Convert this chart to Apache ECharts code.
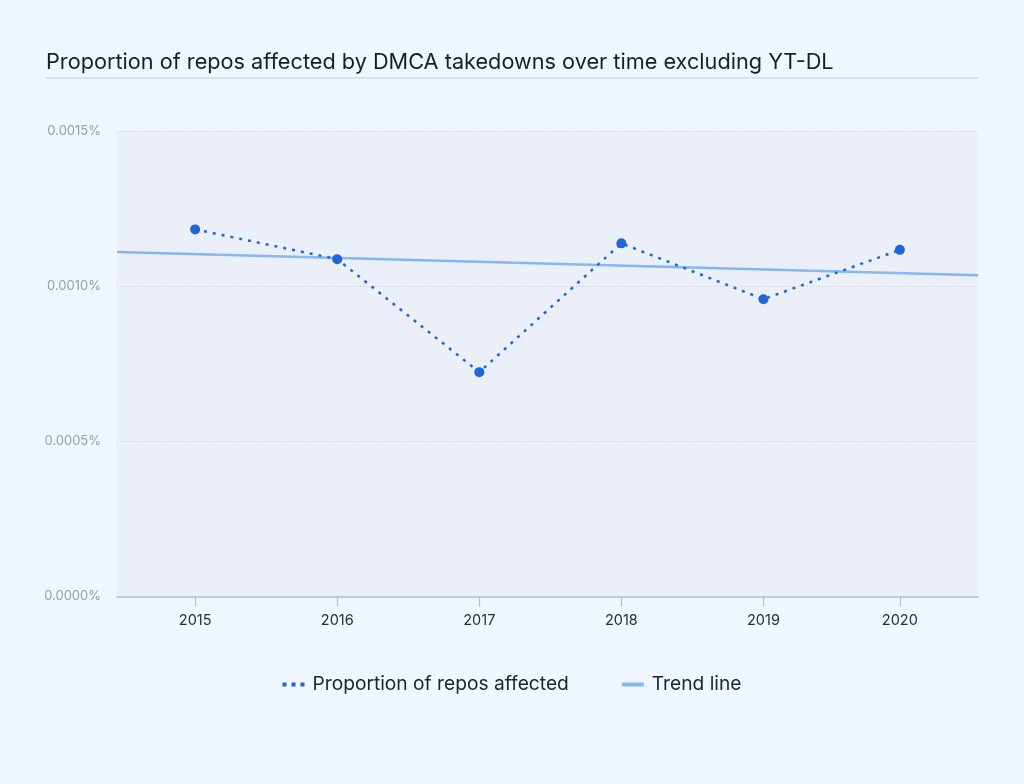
<!DOCTYPE html>
<html>
<head>
<meta charset="utf-8">
<script src="https://cdn.jsdelivr.net/npm/echarts@6/dist/echarts.min.js"></script>
<style>
html,body{margin:0;padding:0;background:#f0f6ff;}
#chart{width:1024px;height:784px;}
</style>
</head>
<body>
<div id="chart"></div>
<script>
// Data (values in percent)
const years = [2015, 2016, 2017, 2018, 2019, 2020];
const yearPositions = [2015, 2016, 2017, 2018, 2019, 2019.96];
const proportion = [0.001183, 0.001087, 0.000723, 0.001138, 0.000958, 0.001117];
const trendX = [2014.45, 2020.51];
const trendY = [0.001110, 0.001035];
const yTicks = [0, 0.0005, 0.001, 0.0015];

const chart = echarts.init(document.getElementById('chart'), null, {renderer: 'canvas'});
const font = 'Inter, "Noto Sans", sans-serif';

chart.setOption({
  backgroundColor: '#f0f6ff',
  animation: false,
  title: {
    text: 'Proportion of repos affected by DMCA takedowns over time excluding YT-DL',
    left: 41, top: 46,
    textStyle: {fontFamily: font, fontSize: 21.7, fontWeight: 400, color: '#1b1f24'}
  },
  graphic: [{
    type: 'line', shape: {x1: 46, y1: 78, x2: 978, y2: 78},
    style: {stroke: '#d3d8e0', lineWidth: 1.5}
  }],
  grid: {
    left: 117, right: 46, top: 131, bottom: 187.5,
    show: true, backgroundColor: '#ebf0f8', borderWidth: 0
  },
  legend: {
    bottom: 85, left: 'center',
    itemWidth: 22, itemHeight: 4, itemGap: 53,
    textStyle: {fontFamily: font, fontSize: 19.2, color: '#1f2328', padding: [0, 0, 0, 3]},
    data: [
      {name: 'Proportion of repos affected', icon: 'path://M0,0h4v4h-4z M9,0h4v4h-4z M18,0h4v4h-4z', itemStyle: {color: '#2166d6'}},
      {name: 'Trend line', icon: 'rect', itemStyle: {color: '#86b6f6'}}
    ]
  },
  xAxis: {
    type: 'value',
    min: trendX[0], max: trendX[1],
    splitLine: {show: false},
    axisLine: {show: true, lineStyle: {color: '#b8bcc3', width: 1.5}},
    axisTick: {show: true, customValues: yearPositions, length: 10, lineStyle: {color: '#b8bcc3', width: 1.2}},
    axisLabel: {
      customValues: yearPositions,
      formatter: v => String(years[yearPositions.indexOf(v)] ?? Math.round(v)),
      fontFamily: font, fontSize: 14.5, color: '#2a2e33', margin: 17
    }
  },
  yAxis: {
    type: 'value', min: 0, max: 0.0015, interval: 0.0005,
    axisLine: {show: false}, axisTick: {show: false},
    axisLabel: {
      formatter: v => v.toFixed(4) + '%',
      fontFamily: font, fontSize: 13, color: '#9a9da3', margin: 16
    },
    splitLine: {show: true, lineStyle: {color: '#c4c7cc', type: [1, 2], width: 1}}
  },
  series: [
    {
      name: 'Trend line', type: 'line', z: 2,
      data: trendX.map((x, i) => [x, trendY[i]]),
      symbol: 'none',
      lineStyle: {color: '#86b6f6', width: 2.5},
      itemStyle: {color: '#86b6f6'}
    },
    {
      name: 'Proportion of repos affected', type: 'line', z: 3,
      data: yearPositions.map((x, i) => [x, proportion[i]]),
      symbol: 'circle', symbolSize: 10,
      lineStyle: {color: '#2166d6', width: 2.5, type: [3, 6]},
      itemStyle: {color: '#2166d6'}
    }
  ]
});
</script>
</body>
</html>
